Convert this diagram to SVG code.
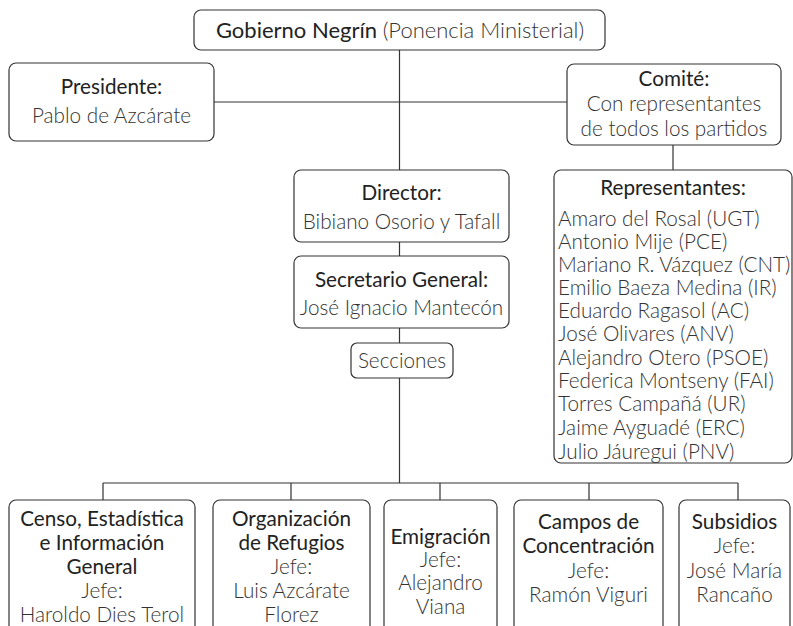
<svg xmlns="http://www.w3.org/2000/svg" width="793" height="626" viewBox="0 0 793 626">
<style>
.box{fill:#fff;stroke:#333;stroke-width:1.2}
.ln{fill:none;stroke:#333;stroke-width:1.2}
text{font-family:Lato,"Open Sans","Liberation Sans",sans-serif;font-size:20.7px;fill:#222}
.h{font-weight:400}
.l{font-weight:300;fill:#333}
.c{text-anchor:middle}
.t{font-size:22px}
</style>
<rect width="793" height="626" fill="#fff"/>
<g id="connectors">
<path class="ln" d="M399.5 50V483M214 102H567M673 145V170M103 483H738M103 483V500M291 483V500M440 483V500M589 483V500M738 483V500"/>
</g>
<g id="gobierno">
<rect class="box" x="194" y="10" width="411" height="40" rx="7"/>
<text x="400" y="38" class="c t"><tspan class="h">Gobierno Negrín</tspan> <tspan class="l">(Ponencia Ministerial)</tspan></text>
</g>
<g id="presidente">
<rect class="box" x="9" y="63" width="205" height="78" rx="7"/>
<text x="111.5" y="94" class="c h">Presidente:</text>
<text x="111.5" y="123" class="c l">Pablo de Azcárate</text>
</g>
<g id="comite">
<rect class="box" x="567" y="64" width="214" height="81" rx="7"/>
<text x="674" y="86" class="c h">Comité:</text>
<text x="674" y="111" class="c l">Con representantes</text>
<text x="674" y="136" class="c l">de todos los partidos</text>
</g>
<g id="representantes">
<rect class="box" x="554" y="170" width="238" height="293" rx="7"/>
<text x="673" y="195" class="c h">Representantes:</text>
<text class="l" x="558" y="226">Amaro del Rosal (UGT)</text>
<text class="l" x="558" y="249">Antonio Mije (PCE)</text>
<text class="l" x="558" y="272">Mariano R. Vázquez (CNT)</text>
<text class="l" x="558" y="295">Emilio Baeza Medina (IR)</text>
<text class="l" x="558" y="318">Eduardo Ragasol (AC)</text>
<text class="l" x="558" y="341">José Olivares (ANV)</text>
<text class="l" x="558" y="365">Alejandro Otero (PSOE)</text>
<text class="l" x="558" y="388">Federica Montseny (FAI)</text>
<text class="l" x="558" y="411">Torres Campañá (UR)</text>
<text class="l" x="558" y="435">Jaime Ayguadé (ERC)</text>
<text class="l" x="558" y="459">Julio Jáuregui (PNV)</text>
</g>
<g id="director">
<rect class="box" x="294" y="170" width="215" height="72" rx="7"/>
<text x="401.5" y="200" class="c h">Director:</text>
<text x="401.5" y="229" class="c l">Bibiano Osorio y Tafall</text>
</g>
<g id="secretario">
<rect class="box" x="294" y="256" width="215" height="72" rx="7"/>
<text x="401.5" y="287" class="c h">Secretario General:</text>
<text x="401.5" y="315" class="c l">José Ignacio Mantecón</text>
</g>
<g id="secciones">
<rect class="box" x="351" y="343" width="102" height="35" rx="6"/>
<text x="402" y="368" class="c l">Secciones</text>
</g>
<g id="censo">
<rect class="box" x="9" y="500" width="186" height="140" rx="7"/>
<text x="102" y="526" class="c h">Censo, Estadística</text>
<text x="102" y="550" class="c h">e Información</text>
<text x="102" y="574" class="c h">General</text>
<text x="102" y="598" class="c l">Jefe:</text>
<text x="102" y="622" class="c l">Haroldo Dies Terol</text>
</g>
<g id="organizacion">
<rect class="box" x="213" y="500" width="157" height="140" rx="7"/>
<text x="291.5" y="526" class="c h">Organización</text>
<text x="291.5" y="550" class="c h">de Refugios</text>
<text x="291.5" y="574" class="c l">Jefe:</text>
<text x="291.5" y="598" class="c l">Luis Azcárate</text>
<text x="291.5" y="622" class="c l">Florez</text>
</g>
<g id="emigracion">
<rect class="box" x="384" y="500" width="113" height="140" rx="7"/>
<text x="440.5" y="544" class="c h">Emigración</text>
<text x="440.5" y="567" class="c l">Jefe:</text>
<text x="440.5" y="590" class="c l">Alejandro</text>
<text x="440.5" y="614" class="c l">Viana</text>
</g>
<g id="campos">
<rect class="box" x="514" y="500" width="149" height="140" rx="7"/>
<text x="588.5" y="529" class="c h">Campos de</text>
<text x="588.5" y="553" class="c h">Concentración</text>
<text x="588.5" y="578" class="c l">Jefe:</text>
<text x="588.5" y="602" class="c l">Ramón Viguri</text>
</g>
<g id="subsidios">
<rect class="box" x="679" y="500" width="111" height="140" rx="7"/>
<text x="734.5" y="529" class="c h">Subsidios</text>
<text x="734.5" y="553" class="c l">Jefe:</text>
<text x="734.5" y="578" class="c l">José María</text>
<text x="734.5" y="602" class="c l">Rancaño</text>
</g>
</svg>
